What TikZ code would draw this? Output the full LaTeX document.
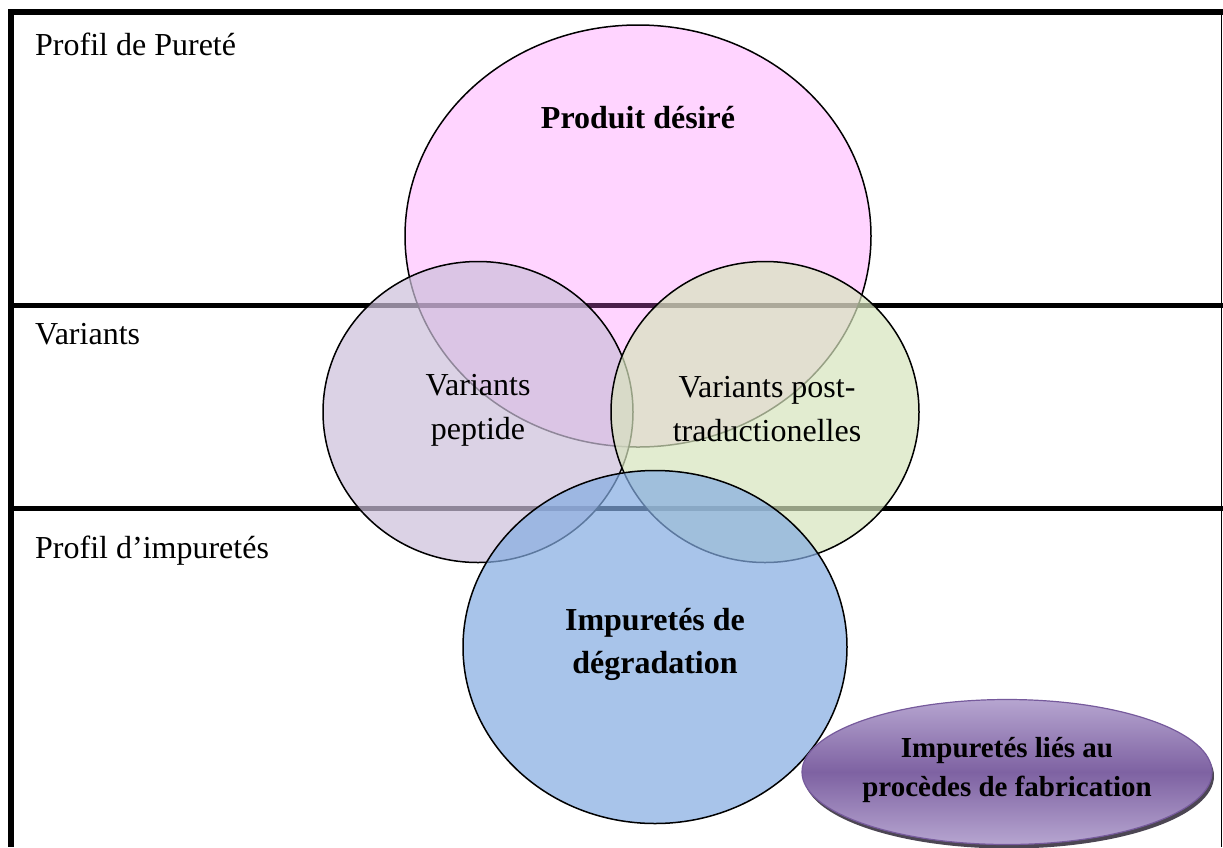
\documentclass[tikz,border=0pt]{standalone}
\usepackage{fontspec}
\setmainfont{Liberation Serif}
\usetikzlibrary{shapes.geometric,shadows}
\definecolor{pinkc}{RGB}{255,110,255}
\definecolor{lavc}{RGB}{204,192,218}
\definecolor{grnc}{RGB}{215,228,189}
\definecolor{bluc}{RGB}{132,172,226}
\definecolor{purpl}{RGB}{182,165,208}
\definecolor{purpd}{RGB}{126,98,162}
\definecolor{purpb}{RGB}{118,90,156}
\begin{document}
\begin{tikzpicture}[x=1pt,y=-1pt,
  blob/.style={ellipse, draw=black, line width=1.5pt, inner sep=0pt, fill opacity=0.7},
  lbl/.style={font=\fontsize{32}{44}\selectfont, align=center, inner sep=0pt},
  blbl/.style={font=\fontsize{32}{43}\selectfont\bfseries, align=center, inner sep=0pt},
  side/.style={font=\fontsize{32}{38}\selectfont, anchor=base west, inner sep=0pt},
  rulel/.style={line width=5.5pt}]
\useasboundingbox (0,0) rectangle (1223,847);
\fill[white] (0,0) rectangle (1223,847);
% frame
\coordinate (tl) at (8.25,12);
\coordinate (tr) at (1222.5,12);
\coordinate (lt) at (11,12);
\coordinate (lb) at (11,847);
\coordinate (rt) at (1221.5,12);
\coordinate (rb) at (1221.5,847);
\coordinate (d1l) at (11,305.5);
\coordinate (d1r) at (1222.5,305.5);
\coordinate (d2l) at (11,508.5);
\coordinate (d2r) at (1222.5,508.5);
\draw[rulel] (tl) -- (tr);
\draw[rulel] (lt) -- (lb);
\draw[line width=1.6pt] (rt) -- (rb);
\draw[rulel] (d1l) -- (d1r);
\draw[rulel] (d2l) -- (d2r);
% side labels
\node[side] (lab1) at (35,55) {Profil de Pureté};
\node[side] (lab2) at (35,344) {Variants};
\node[side] (lab3) at (35,558) {Profil d’impuretés};
% ellipses
\node[blob, fill=pinkc, fill opacity=0.29, minimum width=466pt, minimum height=422pt] (desire) at (638,236) {};
\node[blob, fill=lavc, minimum width=310pt, minimum height=301pt] (pep) at (478,412) {};
\node[blob, fill=grnc, minimum width=308pt, minimum height=301pt] (ptm) at (765,412) {};
\node[blob, fill=bluc, minimum width=384pt, minimum height=353pt] (deg) at (655,647) {};
\node[ellipse, minimum width=410pt, minimum height=145pt, draw=purpb, line width=1.2pt,
  top color=purpl, bottom color=purpl, middle color=purpd,
  drop shadow={shadow xshift=2pt, shadow yshift=-4pt, fill=black!75!purpd, opacity=0.8}] (fab) at (1007,772) {};
% texts
\node[blbl] (tdesire) at (638,118) {Produit désiré};
\node[lbl] (tpep) at (478,410) {Variants\\peptide};
\node[lbl] (tptm) at (767,409) {Variants post-\\traductionelles};
\node[blbl] (tdeg) at (655,644) {Impuretés de\\dégradation};
\node[font=\fontsize{29}{39}\selectfont\bfseries, align=center, inner sep=0pt] (tfab) at (1007,770) {Impuretés liés au\\procèdes de fabrication};
\end{tikzpicture}
\end{document}
